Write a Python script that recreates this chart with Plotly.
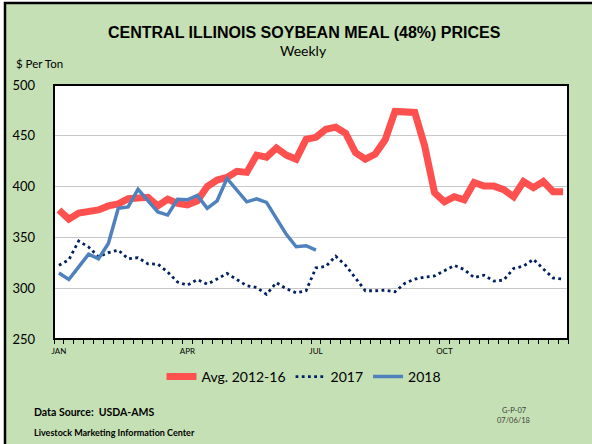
import plotly.graph_objects as go

weeks = list(range(52))
month_ticks = [0, 13, 26, 39]
month_labels = ["JAN", "APR", "JUL", "OCT"]

avg_2012_16 = [377, 368, 374, 375, 377, 381, 383, 388, 389.5, 389.5, 381, 387.5, 383.5,
               382, 386, 400, 406.5, 409, 415, 414, 431, 429, 438, 431, 427, 446.5,
               448.5, 456.5, 458.5, 452.5, 433.5, 427, 432, 446, 474, 474, 473, 440,
               394, 385, 390, 387, 404, 400.5, 400.5, 397, 390, 405, 399, 405, 395, 395]

y2017 = [322.5, 328, 346.5, 340.5, 331, 335, 337.5, 329, 330, 324, 323.7, 316, 306,
         303, 308.5, 304, 309, 314.5, 308.5, 302.5, 300.7, 294, 305.5, 299.5, 295.5, 297.5,
         320, 321.5, 331.5, 322.5, 310, 297.5, 297.5, 298, 296.5, 304.8, 309, 311, 312,
         317, 322.4, 318.4, 310.5, 312.8, 307, 308, 319.4, 321.7, 328.4, 319, 310, 309]

y2018 = [315, 308.6, 321, 333.5, 329, 344, 378.6, 380, 397.4, 386, 375, 372, 387.5,
         387, 391.4, 378.6, 386, 408, 396.7, 385, 388, 384.5, 368.8, 353, 340.8, 341.8, 337.5]

GREEN = "#c5e0b4"
LATO = "Lato, Open Sans, sans-serif"
ARIAL = "Liberation Sans, Arial, sans-serif"

fig = go.Figure()
fig.add_trace(go.Scatter(x=weeks, y=avg_2012_16, mode="lines", name="Avg. 2012-16",
                         line=dict(color="#ff5050", width=7)))
fig.add_trace(go.Scatter(x=weeks, y=y2017, mode="lines", name="2017",
                         line=dict(color="#002060", width=2.8, dash="2.8px,3.4px")))
fig.add_trace(go.Scatter(x=weeks[:len(y2018)], y=y2018, mode="lines", name="2018",
                         line=dict(color="#4f81bd", width=3.5)))

L, R, T, B = 54, 568, 85, 339
W, H = 592, 444
pw, ph = R - L, B - T
def px(x):
    return (x - L) / pw
def py(y):
    return (B - y) / ph

shapes = [
    dict(type="rect", xref="paper", yref="paper", x0=px(5), x1=px(640), y0=py(500), y1=py(3),
         fillcolor=GREEN, line=dict(color="black", width=2.5), layer="below"),
    dict(type="rect", xref="paper", yref="paper", x0=0, x1=1, y0=0, y1=1,
         fillcolor="white", line=dict(width=0), layer="below"),
    dict(type="rect", xref="paper", yref="paper", x0=0, x1=1, y0=0, y1=1,
         fillcolor="rgba(0,0,0,0)", line=dict(color="black", width=2), layer="above"),
]

annotations = [
    dict(text="<b>CENTRAL ILLINOIS SOYBEAN MEAL (48%) PRICES</b>", x=px(304), y=py(33),
         font=dict(family=ARIAL, size=16, color="black")),
    dict(text="Weekly", x=px(303), y=py(50), font=dict(family=LATO, size=14, color="black")),
    dict(text="$ Per Ton", x=px(14), y=py(64), xanchor="left",
         font=dict(family=LATO, size=11.5, color="black")),
    dict(text="<b>Data Source:  USDA-AMS</b>", x=px(32), y=py(412), xanchor="left",
         font=dict(family=LATO, size=10.5, color="black")),
    dict(text="<b>Livestock Marketing Information Center</b>", x=px(32), y=py(432), xanchor="left",
         font=dict(family=LATO, size=9, color="black")),
    dict(text="G-P-07", x=px(514), y=py(410), font=dict(family=LATO, size=7.5, color="#404040")),
    dict(text="07/06/18", x=px(513), y=py(421), font=dict(family=LATO, size=7.5, color="#404040")),
]
for a in annotations:
    a.update(xref="paper", yref="paper", showarrow=False)
    a.setdefault("xanchor", "center")
    a.setdefault("yanchor", "middle")

fig.update_layout(
    width=W, height=H,
    margin=dict(l=L, r=W - R, t=T, b=H - B, pad=0),
    paper_bgcolor="white",
    plot_bgcolor="rgba(0,0,0,0)",
    showlegend=True,
    legend=dict(orientation="h", x=px(304), y=py(377), xanchor="center", yanchor="middle",
                font=dict(family=LATO, size=14, color="black"), bgcolor="rgba(0,0,0,0)",
                itemwidth=30, tracegroupgap=0),
    shapes=shapes,
    annotations=annotations,
    xaxis=dict(range=[-0.5, 51.5], tickmode="array", tickvals=month_ticks, ticktext=month_labels,
               ticks="", showgrid=False, zeroline=False, showline=False,
               tickfont=dict(family=LATO, size=8, color="black"), ticklabelstandoff=6,
               minor=dict(tickmode="linear", tick0=-0.5, dtick=1, ticks="outside", ticklen=4,
                          tickcolor="black", tickwidth=1, showgrid=False)),
    yaxis=dict(range=[250, 500], tickvals=[250, 300, 350, 400, 450, 500],
               showgrid=True, gridcolor="#c8c8c8", gridwidth=1, zeroline=False, showline=False,
               ticks="", tickfont=dict(family=LATO, size=13, color="black"), ticklabelstandoff=18),
)

fig.write_html("out.html", config={"displayModeBar": False},
               post_script="document.body.style.margin='0';document.body.style.overflow='hidden';")
